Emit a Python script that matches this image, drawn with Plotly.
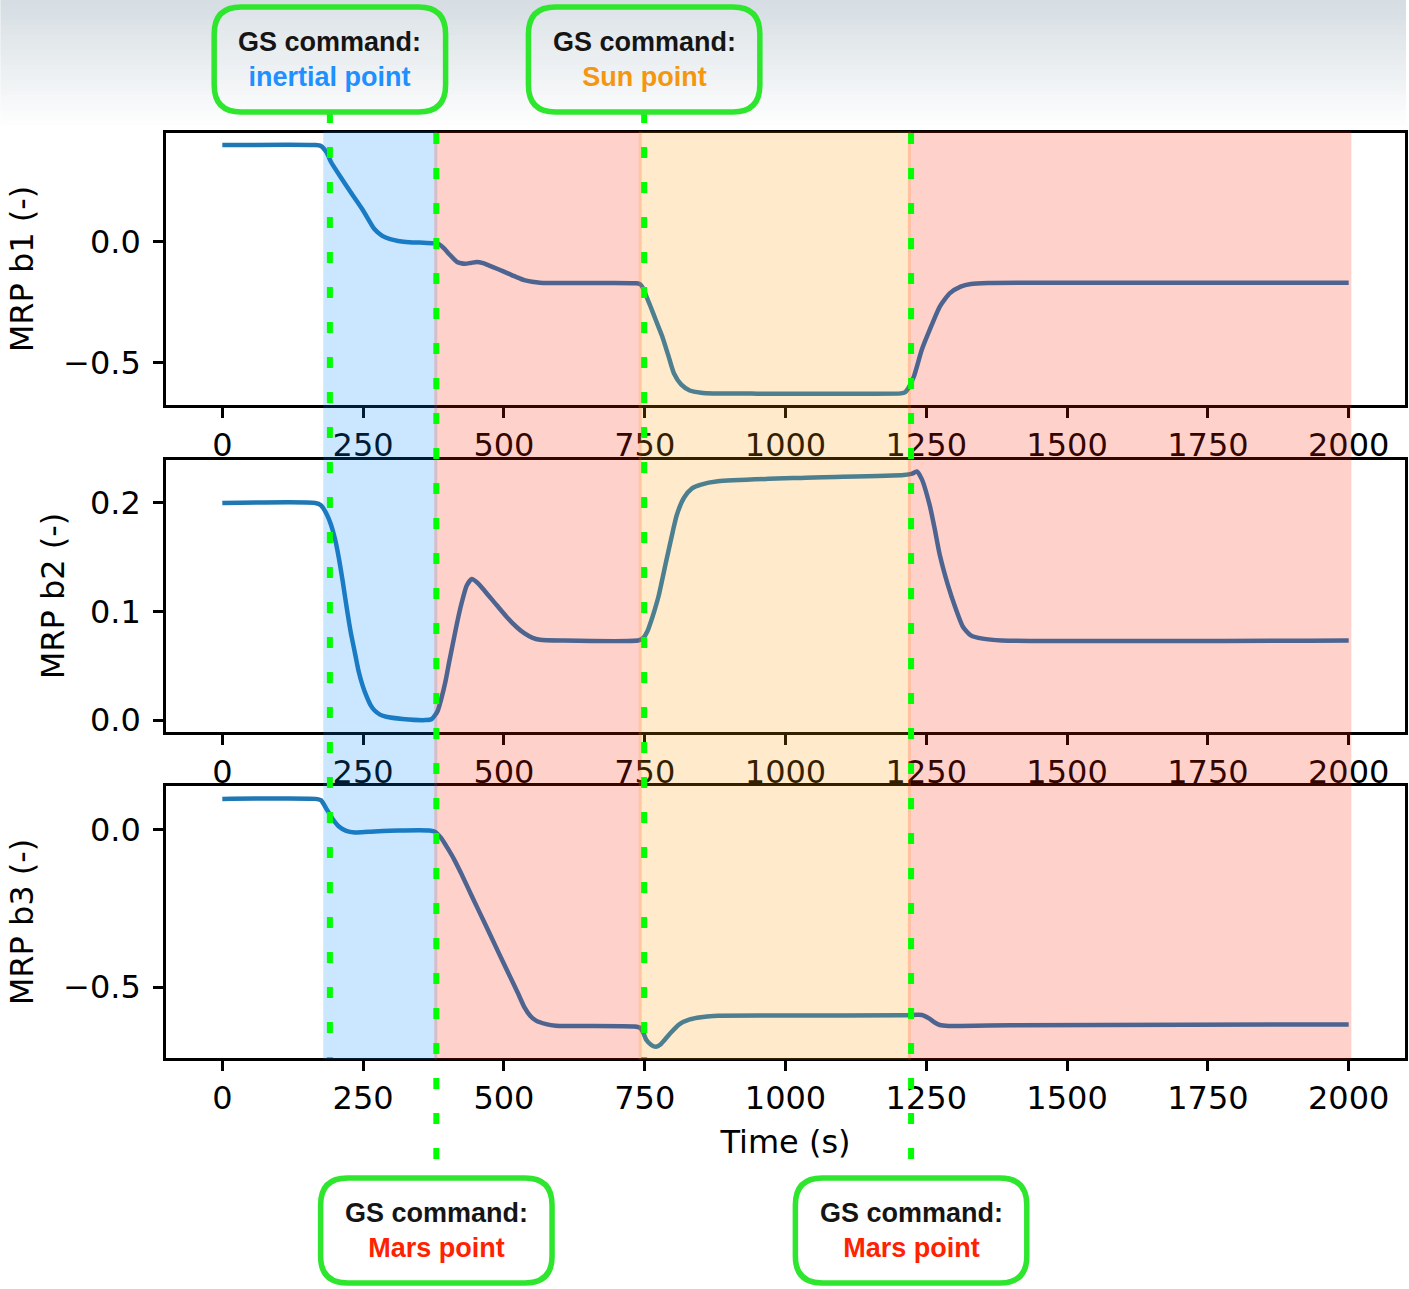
import plotly.graph_objects as go

# ---------------- data ----------------
time_b1 = [0, 165, 175, 185, 193, 210, 228, 250, 270, 284, 298, 312, 326, 350, 375, 385, 395, 403, 410, 417, 424, 431, 441, 452, 463, 473, 490, 508, 522, 536, 550, 564, 578, 650, 735, 742, 748, 753, 760, 770, 781, 792, 802, 815, 830, 850, 872, 950, 1100, 1205, 1212, 1218, 1228, 1242, 1256, 1274, 1292, 1311, 1329, 1360, 1450, 2000]
mrp_b1 = [0.400, 0.400, 0.396, 0.370, 0.330, 0.268, 0.205, 0.130, 0.053, 0.025, 0.011, 0.004, 0.000, -0.003, -0.006, -0.010, -0.030, -0.051, -0.068, -0.083, -0.088, -0.090, -0.087, -0.083, -0.088, -0.097, -0.113, -0.131, -0.145, -0.158, -0.165, -0.169, -0.170, -0.170, -0.171, -0.175, -0.195, -0.225, -0.265, -0.325, -0.390, -0.470, -0.544, -0.590, -0.614, -0.623, -0.626, -0.627, -0.627, -0.626, -0.622, -0.605, -0.556, -0.446, -0.364, -0.267, -0.212, -0.185, -0.174, -0.170, -0.169, -0.169]

time_b2 = [0, 165, 175, 186, 193, 200, 207, 214, 221, 228, 235, 242, 249, 256, 263, 270, 280, 291, 320, 361, 372, 382, 389, 396, 403, 410, 417, 424, 434, 443, 452, 466, 487, 505, 522, 536, 550, 564, 600, 740, 748, 755, 761, 768, 775, 788, 800, 807, 820, 834, 850, 880, 1036, 1210, 1225, 1233, 1242, 1256, 1265, 1274, 1288, 1302, 1315, 1329, 1350, 1384, 2000]
mrp_b2 = [0.200, 0.200, 0.198, 0.189, 0.180, 0.167, 0.149, 0.127, 0.103, 0.081, 0.063, 0.045, 0.032, 0.022, 0.014, 0.009, 0.005, 0.003, 0.001, 0.000, 0.001, 0.008, 0.020, 0.035, 0.054, 0.072, 0.090, 0.106, 0.124, 0.130, 0.127, 0.119, 0.106, 0.095, 0.086, 0.080, 0.076, 0.074, 0.0733, 0.0735, 0.076, 0.082, 0.0906, 0.102, 0.115, 0.146, 0.174, 0.189, 0.205, 0.2135, 0.217, 0.220, 0.2233, 0.2258, 0.227, 0.229, 0.222, 0.198, 0.176, 0.152, 0.125, 0.103, 0.086, 0.078, 0.075, 0.0734, 0.0734]

time_b3 = [0, 165, 175, 186, 196, 207, 220, 235, 260, 312, 368, 378, 389, 400, 412, 424, 445, 466, 487, 508, 525, 536, 547, 557, 575, 592, 732, 742, 748, 753, 762, 770, 778, 786, 795, 812, 830, 850, 872, 1000, 1210, 1242, 1255, 1265, 1274, 1290, 1311, 1400, 2000]
mrp_b3 = [0.099, 0.099, 0.095, 0.064, 0.035, 0.011, -0.003, -0.008, -0.006, -0.002, -0.002, -0.006, -0.027, -0.058, -0.095, -0.138, -0.218, -0.297, -0.377, -0.456, -0.520, -0.563, -0.592, -0.607, -0.618, -0.623, -0.626, -0.630, -0.648, -0.669, -0.685, -0.690, -0.683, -0.667, -0.648, -0.618, -0.603, -0.596, -0.592, -0.591, -0.590, -0.589, -0.600, -0.613, -0.621, -0.624, -0.624, -0.622, -0.619]

span_start = [182, 379, 742, 1220]
span_end = [379, 742, 1220, 2002]
span_color = ["rgb(0,140,255)", "rgb(255,30,0)", "rgb(255,160,0)", "rgb(255,30,0)"]

cmd_time = [191, 380, 749, 1223]
cmd_label = ["inertial point", "Mars point", "Sun point", "Mars point"]
cmd_color = ["#1e90ff", "#ff2200", "#f5960f", "#ff2200"]
cmd_side = ["top", "bottom", "top", "bottom"]

x_ticks = [0, 250, 500, 750, 1000, 1250, 1500, 1750, 2000]

# ---------------- geometry ----------------
W, H = 1409, 1289
ML, MR, MT, MB = 166, 1, 133, 231
PW, PH = W - ML - MR, H - MT - MB
XR = [-100, 2100]


def py2paper(py):
    return (H - MB - py) / PH


def dx_px(px):
    return px * (XR[1] - XR[0]) / PW


def dy_px(py):
    return py / PH


FONT = dict(family="DejaVu Sans", size=32, color="black")
LINE = dict(color="#1f77b4", width=4.5, shape="spline", smoothing=0.6)

fig = go.Figure()
fig.add_trace(go.Scatter(x=time_b1, y=mrp_b1, mode="lines", line=LINE, xaxis="x", yaxis="y", showlegend=False))
fig.add_trace(go.Scatter(x=time_b2, y=mrp_b2, mode="lines", line=LINE, xaxis="x2", yaxis="y2", showlegend=False))
fig.add_trace(go.Scatter(x=time_b3, y=mrp_b3, mode="lines", line=LINE, xaxis="x3", yaxis="y3", showlegend=False))

axis_common = dict(showline=True, mirror=True, linecolor="black", linewidth=2.5,
                   ticks="outside", ticklen=10, tickwidth=2.5, tickcolor="black",
                   showgrid=False, zeroline=False, tickfont=FONT)

xcommon = dict(axis_common, range=XR, tickvals=x_ticks, domain=[0, 1], ticklabelstandoff=0)
ycommon = dict(axis_common, ticklabelstandoff=6)

dom1 = [py2paper(405), py2paper(133)]
dom2 = [py2paper(732), py2paper(460)]
dom3 = [py2paper(1058), py2paper(786)]

shapes = []
# top background gradient
n = 26
for i in range(n):
    y0p = i * 5
    f = i / (n - 1)
    c = [int(214 + (255 - 214) * f), int(222 + (255 - 222) * f), int(227 + (255 - 227) * f)]
    shapes.append(dict(type="rect", xref="paper", yref="paper", x0=-ML / PW, x1=1 + MR / PW,
                       y0=py2paper(y0p + 5.5), y1=py2paper(y0p), layer="below",
                       fillcolor=f"rgb({c[0]},{c[1]},{c[2]})", line=dict(width=0)))

# shaded spans overlaying all three panels
for s, e, c in zip(span_start, span_end, span_color):
    shapes.append(dict(type="rect", xref="x", yref="paper", x0=s, x1=e, y0=0, y1=1,
                       fillcolor=c, opacity=0.2, line=dict(color=c, width=3), layer="above"))

annotations = []
BW, BH, BR = 232, 105, 27
for t, lab, col, side in zip(cmd_time, cmd_label, cmd_color, cmd_side):
    if side == "top":
        ytop, ybot = 7, 112
        l0, l1 = py2paper(112), 0
    else:
        ytop, ybot = 1178, 1283
        l0, l1 = 1, py2paper(1178)
    shapes.append(dict(type="line", xref="x", yref="paper", x0=t, x1=t, y0=l0, y1=l1,
                       line=dict(color="#00ff00", width=6, dash="11px,24px"), layer="above"))
    xl, xr = t - dx_px(BW / 2), t + dx_px(BW / 2)
    yt, yb = py2paper(ytop), py2paper(ybot)
    rx, ry = dx_px(BR), dy_px(BR)
    path = (f"M{xl + rx},{yt} L{xr - rx},{yt} Q{xr},{yt} {xr},{yt - ry} "
            f"L{xr},{yb + ry} Q{xr},{yb} {xr - rx},{yb} L{xl + rx},{yb} "
            f"Q{xl},{yb} {xl},{yb + ry} L{xl},{yt - ry} Q{xl},{yt} {xl + rx},{yt} Z")
    shapes.append(dict(type="path", xref="x", yref="paper", path=path,
                       line=dict(color="#2ee62e", width=5.5), fillcolor="rgba(255,255,255,0.15)", layer="above"))
    annotations.append(dict(xref="x", yref="paper", x=t, y=py2paper((ytop + ybot) / 2 + 0),
                            text=f"<b>GS command:</b><br><b><span style='color:{col}'>{lab}</span></b>",
                            showarrow=False, xanchor="center", yanchor="middle", align="center",
                            font=dict(family="Liberation Sans", size=27, color="#151515")))

fig.update_layout(
    width=W, height=H, autosize=False,
    margin=dict(l=ML, r=MR, t=MT, b=MB, pad=0),
    paper_bgcolor="white", plot_bgcolor="white",
    showlegend=False,
    xaxis=dict(xcommon, anchor="y"),
    xaxis2=dict(xcommon, anchor="y2"),
    xaxis3=dict(xcommon, anchor="y3", title=dict(text="Time (s)", font=FONT, standoff=15)),
    yaxis=dict(ycommon, domain=dom1, range=[-0.674, 0.450], tickvals=[-0.5, 0.0], tickformat=".1f",
               title=dict(text="MRP b1 (-)", font=FONT, standoff=20)),
    yaxis2=dict(ycommon, domain=dom2, range=[-0.011, 0.2396], tickvals=[0.0, 0.1, 0.2], tickformat=".1f",
                title=dict(text="MRP b2 (-)", font=FONT, standoff=16)),
    yaxis3=dict(ycommon, domain=dom3, range=[-0.726, 0.140], tickvals=[-0.5, 0.0], tickformat=".1f",
                title=dict(text="MRP b3 (-)", font=FONT, standoff=20)),
    shapes=shapes,
    annotations=annotations,
)

fig.write_html("out.html", config={"displayModeBar": False},
               post_script="document.body.style.margin='0';document.body.style.overflow='hidden';")
